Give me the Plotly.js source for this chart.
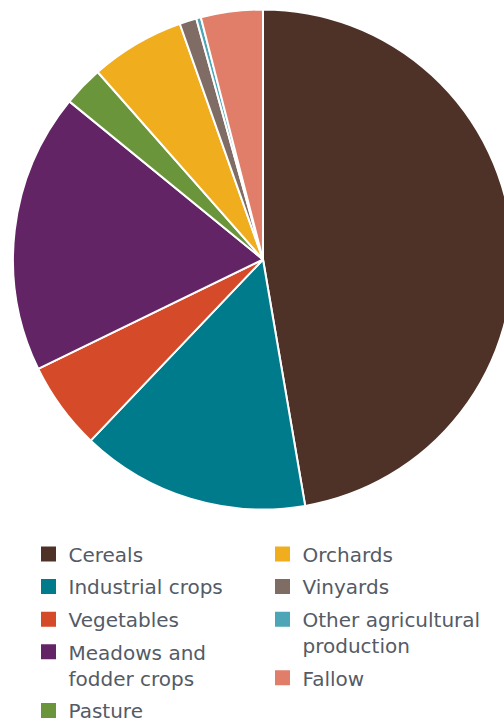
<!DOCTYPE html>
<html>
<head>
<meta charset="utf-8">
<script src="https://cdn.plot.ly/plotly-3.0.1.min.js"></script>
<style>
html, body { margin: 0; padding: 0; overflow: hidden; background: #ffffff; }
#chart { width: 514px; height: 723px; }
</style>
</head>
<body>
<div id="chart"></div>
<script>
// Land use shares (%), clockwise from 12 o'clock
const categories = ["Cereals", "Industrial crops", "Vegetables", "Meadows and fodder crops", "Pasture",
                    "Orchards", "Vinyards", "Other agricultural production", "Fallow"];
const shares = [47.3, 14.8, 5.7, 18.1, 2.6, 6.1, 1.1, 0.3, 4.0];
const colors = ["#4e3228", "#007b8c", "#d54a29", "#632466", "#6b953b",
                "#f0ae1f", "#7f6c64", "#4da5b5", "#e07e6a"];
const legendLabels = ["Cereals", "Industrial crops", "Vegetables", "Meadows and<br>fodder crops", "Pasture",
                      "Orchards", "Vinyards", "Other agricultural<br>production", "Fallow"];
const legendColumn = [1, 1, 1, 1, 1, 2, 2, 2, 2];

const W = 514, H = 723;

const pie = {
  type: "pie",
  labels: categories,
  values: shares,
  sort: false,
  direction: "clockwise",
  rotation: 0,
  textinfo: "none",
  hoverinfo: "label+percent",
  showlegend: false,
  marker: { colors: colors, line: { color: "#ffffff", width: 2 } },
  domain: { x: [13 / W, 513 / W], y: [(H - 510) / H, (H - 9) / H] }
};

const legendTraces = categories.map((c, i) => ({
  type: "scatter",
  mode: "markers",
  x: [null], y: [null],
  name: legendLabels[i],
  legend: legendColumn[i] === 1 ? "legend" : "legend2",
  legendgroup: "g" + i,
  marker: { symbol: "square", size: 15, color: colors[i] },
  hoverinfo: "skip",
  showlegend: true
}));

const legendFont = { family: "DejaVu Sans, sans-serif", size: 20, color: "#545b66" };

const layout = {
  width: W, height: H,
  margin: { l: 0, r: 0, t: 0, b: 0, autoexpand: false },
  paper_bgcolor: "#ffffff",
  plot_bgcolor: "#ffffff",
  xaxis: { visible: false },
  yaxis: { visible: false },
  legend: {
    x: 28.5 / W, xanchor: "left",
    y: (H - 534.5) / H, yanchor: "top",
    font: legendFont, valign: "top", tracegroupgap: 3.6,
    traceorder: "grouped", bgcolor: "rgba(0,0,0,0)", borderwidth: 0
  },
  legend2: {
    x: 262.5 / W, xanchor: "left",
    y: (H - 534.5) / H, yanchor: "top",
    font: legendFont, valign: "top", tracegroupgap: 3.6,
    traceorder: "grouped", bgcolor: "rgba(0,0,0,0)", borderwidth: 0
  }
};

Plotly.newPlot("chart", [pie].concat(legendTraces), layout, { displayModeBar: false, staticPlot: true });
</script>
</body>
</html>
